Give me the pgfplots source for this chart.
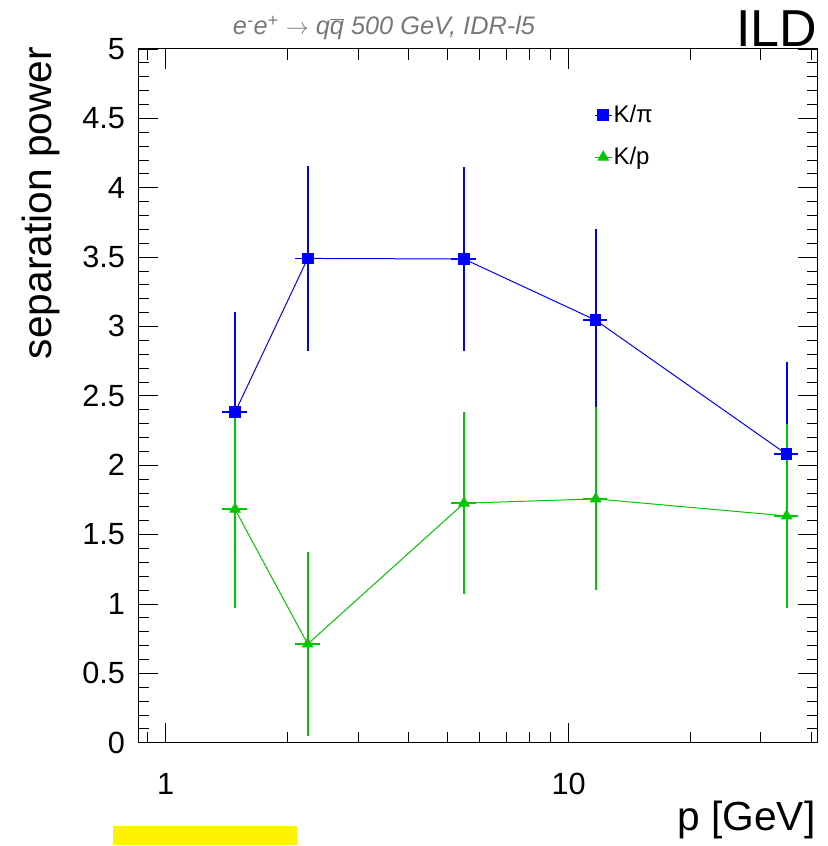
\documentclass[border=0pt]{standalone}
\usepackage{fontspec}
\setmainfont{Liberation Sans}
\usepackage{pgfplots}
\pgfplotsset{compat=1.18}
\usepackage{pgfplotstable}
\definecolor{rootblue}{RGB}{0,0,255}
\definecolor{rootgreen}{RGB}{0,200,0}
\definecolor{titlegray}{RGB}{120,120,120}

\pgfplotstableread{
x y ex ey
1.486 2.381 0.07 0.720
2.251 3.490 0.07 0.667
5.50 3.486 0.07 0.661
11.67 3.045 0.07 0.658
34.75 2.079 0.07 0.663
}\kpi
\pgfplotstableread{
x y ex ey
1.486 1.682 0.07 0.709
2.251 0.711 0.07 0.663
5.50 1.726 0.07 0.657
11.67 1.757 0.07 0.660
34.75 1.634 0.07 0.660
}\kp

\begin{document}
\begin{tikzpicture}
\begin{axis}[
  at={(0pt,0pt)}, anchor=south west,
  scale only axis,
  width=509.55pt, height=520.3pt,
  clip=false,
  xmode=log,
  xmin=0.855, xmax=41.5, ymin=0, ymax=5,
  xtick={1,10}, xticklabels={1,10},
  minor xtick={0.9,2,3,4,5,6,7,8,9,20,30,40},
  ytick={0,0.5,1,1.5,2,2.5,3,3.5,4,4.5,5},
  yticklabels={0,0.5,1,1.5,2,2.5,3,3.5,4,4.5,5},
  minor y tick num=4,
  tick align=inside,
  major tick length=15pt, minor tick length=8pt,
  axis line style={black, line width=0.75pt},
  every tick/.style={black, line width=0.6pt},
  /pgf/number format/assume math mode=true,
  tick label style={font=\fontsize{23}{26}\selectfont},
  xticklabel style={inner sep=0pt, anchor=north, yshift=-22.5pt},
  yticklabel style={inner sep=0pt, anchor=east, xshift=-9.75pt},
  xlabel={p [GeV]}, ylabel={separation power},
  label style={font=\fontsize{30.5}{33}\selectfont, inner sep=0pt},
  xlabel style={at={(rel axis cs:0.997,-0.1263)}, anchor=base east},
  ylabel style={at={(rel axis cs:-0.1275,1.003)}, anchor=base east},
  legend style={at={(rel axis cs:0.6707,0.921)}, anchor=north west,
    draw=none, fill=none, inner sep=0pt, row sep=15pt,
    font=\fontsize{18}{21}\selectfont, nodes={inner sep=1pt}},
  legend cell align=left,
  legend image code/.code={
    \draw[#1, mark repeat=2, mark phase=2] plot coordinates {(0pt,0pt) (6.4pt,0pt) (12.75pt,0pt)};
  },
]
\addplot[color=rootblue, line width=0.75pt, mark=square*, mark size=4pt,
  mark options={solid, fill=rootblue, draw=rootblue},
  error bars/.cd, y dir=both, y explicit, x dir=both, x explicit relative,
  error bar style={line width=1.4pt, color=rootblue}, error mark=none]
  table[x=x, y=y, x error=ex, y error=ey]{\kpi};
\addlegendentry{K/π}
\addplot[color=rootgreen, line width=0.75pt, mark=triangle*, mark size=4.4pt,
  mark options={solid, fill=rootgreen, draw=rootgreen},
  error bars/.cd, y dir=both, y explicit, x dir=both, x explicit relative,
  error bar style={line width=1.4pt, color=rootgreen}, error mark=none]
  table[x=x, y=y, x error=ex, y error=ey]{\kp};
\addlegendentry{K/p}

\node[anchor=base, text=titlegray, inner sep=0pt, font=\itshape\fontsize{19}{22}\selectfont]
  at (rel axis cs:0.3617,1) [yshift=10.5pt]
  {e\textsuperscript{-}e\textsuperscript{+} $\rightarrow$ q$\overline{\mbox{\itshape q}}$ 500 GeV, IDR-l5};
\node[anchor=base east, inner sep=0pt, font=\fontsize{39}{40}\selectfont]
  at (rel axis cs:1,1) [yshift=1.5pt] {ILD};
\fill[yellow] (rel axis cs:-0.0372,-0.1201) rectangle (rel axis cs:0.2336,-0.1475);
\end{axis}
\pgfresetboundingbox
\useasboundingbox (-103.7pt,-77.5pt) rectangle (517.3pt,557.0pt);
\end{tikzpicture}
\end{document}
